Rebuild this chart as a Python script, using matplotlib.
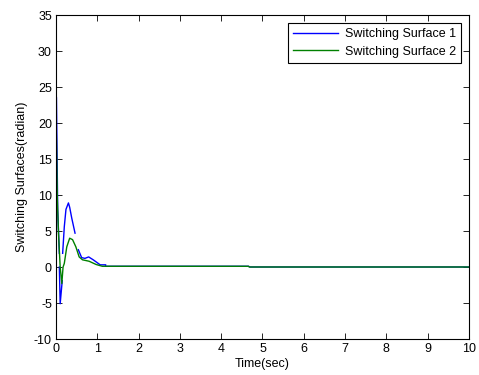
import numpy as np
import matplotlib
matplotlib.use("Agg")
import matplotlib.pyplot as plt

plt.rcParams["font.family"] = ["Liberation Sans", "DejaVu Sans"]
plt.rcParams["axes.unicode_minus"] = False

# Switching surface 1 (NaN marks the breaks in the trace)
t1 = [0.0, 0.0, 0.01, 0.02, 0.04, 0.08, np.nan, 0.08, 0.10, 0.15, np.nan,
      0.16, 0.20, 0.24, 0.30, 0.33, 0.38, 0.46, np.nan,
      0.54, 0.62, 0.70, 0.79, 0.90, 1.07, 1.20, np.nan,
      1.2, 4.66, 4.7, 10.0]
s1 = [31.6, 24.0, 23.5, 18.0, 8.0, 1.9, np.nan, 0.0, -5.1, -1.9, np.nan,
      1.9, 5.6, 8.0, 8.9, 8.3, 6.8, 4.7, np.nan,
      2.4, 1.3, 1.2, 1.4, 1.0, 0.3, 0.3, np.nan,
      0.1, 0.1, 0.0, 0.0]

# Switching surface 2
t2 = [0.0, 0.01, 0.03, 0.06, 0.10, 0.14, 0.17, 0.20, 0.26, 0.33, 0.40,
      0.48, 0.56, 0.64, 0.80, 0.97, 1.12, 4.66, 4.68, 10.0]
s2 = [20.8, 17.5, 9.7, 4.6, 0.0, -2.3, 0.0, 0.5, 2.8, 4.0, 3.8,
      2.8, 1.4, 1.0, 0.8, 0.35, 0.1, 0.1, 0.0, 0.0]

fig = plt.figure(figsize=(4.79, 3.75), dpi=100)
ax = fig.add_axes([0.117, 0.096, 0.862, 0.864])

ax.plot(t1, s1, color="#0000ff", lw=1.0, label="Switching Surface 1")
ax.plot(t2, s2, color="#008000", lw=1.0, label="Switching Surface 2")

ax.set_xlim(0, 10)
ax.set_ylim(-10, 35)
ax.set_xticks(range(0, 11))
ax.set_yticks(range(-10, 36, 5))
ax.tick_params(direction="in", top=True, right=True, labelsize=9,
               length=4, width=0.6, pad=3)
for sp in ax.spines.values():
    sp.set_linewidth(0.8)

ax.set_xlabel("Time(sec)", fontsize=9, labelpad=2)
ax.set_ylabel("Switching Surfaces(radian)", fontsize=9, labelpad=4)

leg = ax.legend(loc="upper right", fontsize=9, fancybox=False, framealpha=1,
                edgecolor="black", handlelength=3.6, borderaxespad=0.6,
                labelspacing=0.45, borderpad=0.45, handletextpad=0.5)
leg.get_frame().set_linewidth(0.8)

fig.savefig("out.png", dpi=100)
